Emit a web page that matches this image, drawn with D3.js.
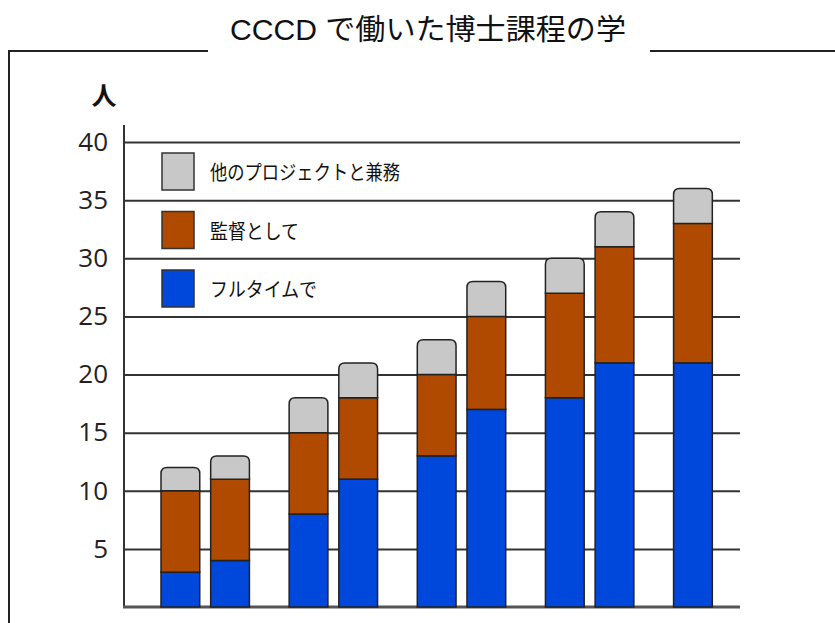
<!DOCTYPE html>
<html>
<head>
<meta charset="utf-8">
<script src="https://cdn.jsdelivr.net/npm/d3@7"></script>
<style>
html, body { margin: 0; padding: 0; background: #fff; }
svg { display: block; }
</style>
</head>
<body>
<svg></svg>
<script>
const width = 835;
const height = 623;
const titleText = 'CCCD で働いた博士課程の学';
const unitLabel = '人';

// bars come in pairs; "group-slot"
const categories = ['1-1', '1-2', '2-1', '2-2', '3-1', '3-2', '4-1', '4-2', '5-1'];
const fullTime = [3, 4, 8, 11, 13, 17, 18, 21, 21];
const supervisor = [7, 7, 7, 7, 7, 8, 9, 10, 12];
const otherProject = [2, 2, 3, 3, 3, 3, 3, 3, 3];
const seriesKeys = ['fullTime', 'supervisor', 'otherProject'];
const seriesNames = ['フルタイムで', '監督として', '他のプロジェクトと兼務'];
const seriesColors = ['#0047dc', '#b04a00', '#c8c8c8'];
const yTicks = [5, 10, 15, 20, 25, 30, 35, 40];

var svg = d3.select('svg').attr('width', width).attr('height', height);

// build the table d3.stack wants
var table = categories.map(function(c, i){
	return { cat: c, group: c.split('-')[0], slot: c.split('-')[1],
		fullTime: fullTime[i], supervisor: supervisor[i], otherProject: otherProject[i] };
});
var stacked = d3.stack().keys(seriesKeys)(table);

var groups = Array.from(new Set(table.map(d => d.group)));
var x0 = d3.scaleBand().domain(groups).range([161, 762]).paddingInner(0.31).paddingOuter(0);
var x1 = d3.scaleBand().domain(['1', '2']).range([0, x0.bandwidth()]).paddingInner(0.22).paddingOuter(0);
var y = d3.scaleLinear().domain([0, 40]).range([607, 142]);

// frame around the chart, broken by the title
svg.append('path')
	.attr('d', 'M9,623 V51 H208 M650,51 H835')
	.style('fill', 'none').style('stroke', '#222').style('stroke-width', 2);

svg.append('text')
	.attr('x', 428).attr('y', 40).attr('text-anchor', 'middle')
	.attr('textLength', 396).attr('lengthAdjust', 'spacingAndGlyphs')
	.style('font-family', '"Liberation Sans", "Noto Sans CJK JP", sans-serif')
	.style('font-size', '29px').style('fill', '#111')
	.text(titleText);

svg.append('text')
	.attr('x', 104).attr('y', 105).attr('text-anchor', 'middle')
	.style('font-family', '"Noto Sans CJK JP", sans-serif')
	.style('font-size', '25px').style('font-weight', 'bold').style('fill', '#111')
	.text(unitLabel);

// grid lines + y axis
var yAxis = d3.axisLeft(y).tickValues(yTicks).tickSize(-616).tickPadding(16);
var gy = svg.append('g').attr('transform', 'translate(124,0)').call(yAxis);
gy.select('.domain').remove();
gy.selectAll('.tick line').style('stroke', '#333').style('stroke-width', 2);
gy.selectAll('.tick text')
	.style('font-family', '"Open Sans", sans-serif')
	.style('font-size', '26px').style('fill', '#222');

svg.append('line')
	.attr('x1', 124).attr('x2', 124).attr('y1', 125).attr('y2', y(0))
	.style('stroke', '#333').style('stroke-width', 2);
svg.append('line')
	.attr('x1', 123).attr('x2', 740).attr('y1', y(0)).attr('y2', y(0))
	.style('stroke', '#555').style('stroke-width', 3);

// stacked bars
var bw = x1.bandwidth();
function barX(d){ return x0(d.data.group) + x1(d.data.slot); }
function roundTop(x, y0, y1, w, r){
	return 'M' + x + ',' + y0 + 'V' + (y1 + r) + 'Q' + x + ',' + y1 + ' ' + (x + r) + ',' + y1 +
		'H' + (x + w - r) + 'Q' + (x + w) + ',' + y1 + ' ' + (x + w) + ',' + (y1 + r) + 'V' + y0 + 'Z';
}

stacked.forEach(function(layer, li){
	var g = svg.append('g');
	if(li === seriesKeys.length - 1){
		g.selectAll('path.bar').data(layer).enter().append('path')
			.classed('bar', true)
			.attr('d', d => roundTop(barX(d), y(d[0]), y(d[1]), bw, 6))
			.style('fill', seriesColors[li]).style('stroke', '#222').style('stroke-width', 1.5);
	} else {
		g.selectAll('rect.bar').data(layer).enter().append('rect')
			.classed('bar', true)
			.attr('x', barX).attr('width', bw)
			.attr('y', d => y(d[1])).attr('height', d => y(d[0]) - y(d[1]))
			.style('fill', seriesColors[li]).style('stroke', '#222').style('stroke-width', 1.5);
	}
});

// legend, top entry is the top of the stack
var legendOrder = [2, 1, 0];
var legendWidths = [190, 89, 107];
var lg = svg.append('g');
legendOrder.forEach(function(si, k){
	var ly = 153 + k * 58.5;
	lg.append('rect')
		.attr('x', 162).attr('y', ly).attr('width', 32).attr('height', 37)
		.style('fill', seriesColors[si]).style('stroke', '#333').style('stroke-width', 1.5);
	lg.append('text')
		.attr('x', 210).attr('y', ly + 27)
		.attr('textLength', legendWidths[k]).attr('lengthAdjust', 'spacingAndGlyphs')
		.style('font-family', '"Noto Sans CJK JP", sans-serif')
		.style('font-size', '20px').style('fill', '#111')
		.text(seriesNames[si]);
});
</script>
</body>
</html>
